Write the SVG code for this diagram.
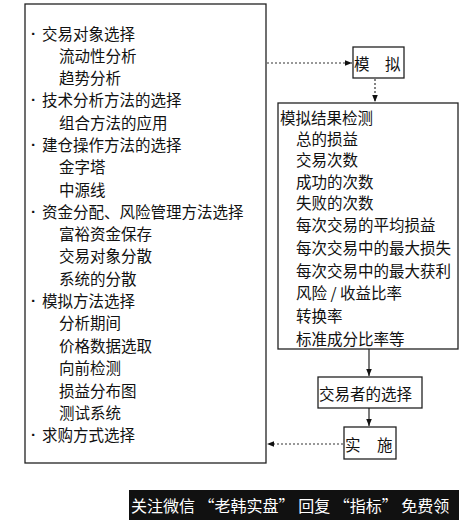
<svg xmlns="http://www.w3.org/2000/svg" width="459" height="520" viewBox="0 0 459 520">
<defs>
<style>
.box{fill:#fff;stroke:#222;stroke-width:1.3}
.t{font-family:"Noto Sans CJK SC","Noto Sans CJK JP",sans-serif;font-size:15.5px;fill:#111;dominant-baseline:central}
.b{font-family:"Liberation Sans",sans-serif;font-weight:bold}
.ln{stroke:#222;stroke-width:1.2;fill:none}
.dot{stroke:#333;stroke-width:1.2;fill:none;stroke-dasharray:2 2}
.ban{font-family:"Noto Sans CJK SC",sans-serif;font-size:16px;fill:#fff;dominant-baseline:central}
</style>
<marker id="ah" viewBox="0 0 10 10" refX="10" refY="5" markerWidth="7" markerHeight="7" orient="auto" markerUnits="userSpaceOnUse">
<path d="M0,1 L10,5 L0,9 Z" fill="#111"/>
</marker>
</defs>
<rect width="459" height="520" fill="#fff"/>

<g id="node-methods">
<rect class="box" x="25" y="4" width="241" height="459"/>
<text class="t" y="33"><tspan class="b" x="31">·</tspan><tspan x="42">交易对象选择</tspan></text>
<text class="t" x="59" y="55">流动性分析</text>
<text class="t" x="59" y="77">趋势分析</text>
<text class="t" y="99"><tspan class="b" x="31">·</tspan><tspan x="42">技术分析方法的选择</tspan></text>
<text class="t" x="59" y="122">组合方法的应用</text>
<text class="t" y="144"><tspan class="b" x="31">·</tspan><tspan x="42">建仓操作方法的选择</tspan></text>
<text class="t" x="59" y="166">金字塔</text>
<text class="t" x="59" y="189">中源线</text>
<text class="t" y="211"><tspan class="b" x="31">·</tspan><tspan x="42">资金分配、风险管理方法选择</tspan></text>
<text class="t" x="59" y="233">富裕资金保存</text>
<text class="t" x="59" y="255">交易对象分散</text>
<text class="t" x="59" y="278">系统的分散</text>
<text class="t" y="300"><tspan class="b" x="31">·</tspan><tspan x="42">模拟方法选择</tspan></text>
<text class="t" x="59" y="322">分析期间</text>
<text class="t" x="59" y="345">价格数据选取</text>
<text class="t" x="59" y="367">向前检测</text>
<text class="t" x="59" y="390">损益分布图</text>
<text class="t" x="59" y="412">测试系统</text>
<text class="t" y="434"><tspan class="b" x="31">·</tspan><tspan x="42">求购方式选择</tspan></text>
</g>

<g id="node-simulate">
<rect class="box" x="353" y="47" width="51" height="31"/>
<text class="t" x="354" y="63">模</text>
<text class="t" x="385" y="63">拟</text>
</g>

<g id="node-results">
<rect class="box" x="278" y="103" width="180" height="246"/>
<text class="t" x="280" y="117">模拟结果检测</text>
<text class="t" x="296" y="138">总的损益</text>
<text class="t" x="296" y="159">交易次数</text>
<text class="t" x="296" y="181">成功的次数</text>
<text class="t" x="296" y="202">失败的次数</text>
<text class="t" x="296" y="224">每次交易的平均损益</text>
<text class="t" x="296" y="247">每次交易中的最大损失</text>
<text class="t" x="296" y="270">每次交易中的最大获利</text>
<text class="t" x="296" y="292">风险 / 收益比率</text>
<text class="t" x="296" y="315">转换率</text>
<text class="t" x="296" y="338">标准成分比率等</text>
</g>

<g id="node-trader">
<rect class="box" x="318" y="377" width="104" height="31"/>
<text class="t" x="319" y="393">交易者的选择</text>
</g>

<g id="node-implement">
<rect class="box" x="344" y="427" width="52" height="32"/>
<text class="t" x="345" y="444">实</text>
<text class="t" x="377" y="444">施</text>
</g>

<g id="connectors">
<line class="dot" x1="267" y1="63" x2="352" y2="63" marker-end="url(#ah)"/>
<line class="dot" x1="375" y1="79" x2="375" y2="102" marker-end="url(#ah)"/>
<line class="ln" x1="369" y1="349" x2="369" y2="376" marker-end="url(#ah)"/>
<line class="ln" x1="369" y1="408" x2="369" y2="426" marker-end="url(#ah)"/>
<line class="dot" x1="343" y1="444" x2="267" y2="444" marker-end="url(#ah)"/>
</g>

<g id="banner">
<rect x="129" y="490" width="330" height="30" fill="#111"/>
<text class="ban" x="131" y="505">关注微信 “老韩实盘” 回复 “指标” 免费领</text>
</g>
</svg>
